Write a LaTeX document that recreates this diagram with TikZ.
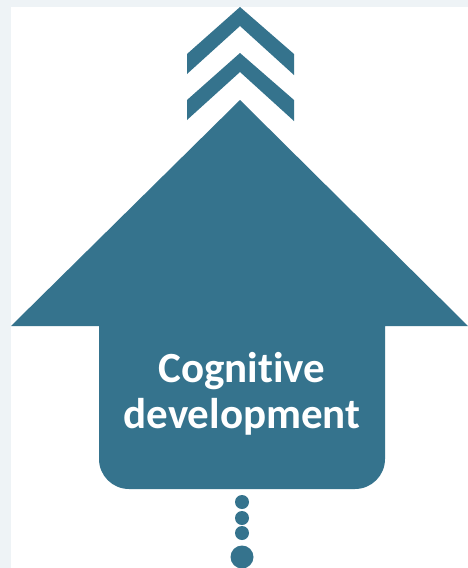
\documentclass[tikz,border=0pt]{standalone}
\usepackage{fontspec}
\setmainfont{Carlito}[Ligatures={NoCommon}]
\definecolor{arrowteal}{HTML}{35738D}
\definecolor{pagegray}{HTML}{EEF3F6}
\begin{document}
\begin{tikzpicture}[x=1pt,y=-1pt,
        tealfill/.style = {fill=arrowteal},
        caption/.style = {text=white, font=\bfseries\fontsize{43}{46}\selectfont, anchor=base, inner sep=0pt}]
    \useasboundingbox (0,0) rectangle (468,568);
    \fill[pagegray] (0,0) rectangle (468,568);
    \fill[white] (11,7) rectangle (468,568);

    % two chevrons on top
    \foreach \dy in {0,46}
        \fill[tealfill] (240,7+\dy) -- (294,54+\dy) -- (294,75+\dy)
            -- (240,26+\dy) -- (187,74+\dy) -- (187,54+\dy) -- cycle;

    % big arrow, round corners only at the bottom
    \fill[tealfill] (240,100) -- (468,326) -- (385,326)
        [rounded corners=30] -- (385,489) -- (99,489)
        [sharp corners] -- (99,326) -- (11,326) -- cycle;

    \node[caption] (cogn)  at (242,382) {Cognitive};
    \node[caption] (devel) at (242,428) {development};

    % dotted tail
    \foreach \y in {502,518,533}
        \fill[tealfill] (242,\y) circle (7);
    \fill[tealfill] (242,557) circle (11.5);
\end{tikzpicture}
\end{document}
